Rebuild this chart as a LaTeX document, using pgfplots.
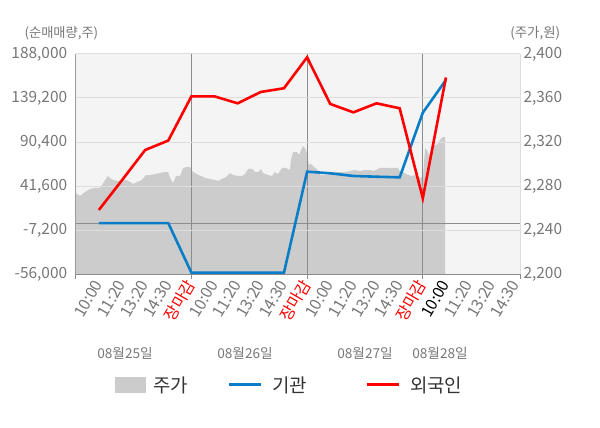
\documentclass[border=0pt]{standalone}
\usepackage{pgfplots}
\pgfplotsset{compat=1.18}
\usepackage{fontspec}
\setmainfont{Noto Sans CJK KR}
\definecolor{bgc}{HTML}{F4F4F4}
\definecolor{gridc}{HTML}{DDDDDD}
\definecolor{darkc}{HTML}{8C8C8C}
\definecolor{areac}{HTML}{CCCCCC}
\definecolor{bluec}{HTML}{0A7DC8}
\definecolor{redc}{HTML}{FF0000}
\definecolor{textc}{HTML}{777777}
\definecolor{legc}{HTML}{333333}
\begin{document}
\begin{tikzpicture}
\useasboundingbox (-75.7bp,-154bp) rectangle (524.3bp,274bp);
\begin{axis}[
  name=ax1, at={(0,0)}, anchor=south west,
  scale only axis, width=444.3bp, height=220bp,
  xmin=0, xmax=19.2, ymin=2200, ymax=2400,
  axis x line*=bottom, axis y line*=right,
  x axis line style={draw=none},
  y axis line style={draw=gridc, line width=1bp},
  axis background/.style={fill=bgc},
  xtick={1,...,19},
  xticklabels={10:00,11:20,13:20,14:30,\textcolor{redc}{장마감},10:00,11:20,13:20,14:30,\textcolor{redc}{장마감},10:00,11:20,13:20,14:30,\textcolor{redc}{장마감},\textcolor{black}{10:00},11:20,13:20,14:30},
  major tick length=0pt,
  x tick label style={xshift=1bp, yshift=-4.5bp, rotate=60, anchor=east, font=\fontsize{16}{18}\selectfont, text=textc},
  ytick={2200,2240,2280,2320,2360,2400},
  yticklabels={{2,200},{2,240},{2,280},{2,320},{2,360},{2,400}},
  y tick label style={font=\fontsize{15.5}{18}\selectfont, text=textc},
  scaled y ticks=false,
]
\addplot[fill=areac, draw=none] table {
0.00 2273.6
0.19 2270.9
0.40 2274.5
0.62 2277.3
0.83 2278.2
1.05 2278.2
1.14 2280.9
1.27 2285.5
1.40 2289.1
1.48 2287.3
1.61 2285.5
1.83 2284.5
2.00 2285.5
2.18 2285.5
2.35 2283.6
2.48 2281.8
2.65 2283.6
2.86 2285.5
3.04 2290.0
3.21 2290.0
3.43 2290.9
3.64 2291.8
3.86 2292.7
3.99 2292.7
4.08 2287.3
4.21 2282.7
4.33 2289.1
4.51 2289.1
4.64 2296.4
4.81 2297.3
4.94 2297.3
5.07 2292.7
5.16 2291.8
5.29 2290.0
5.42 2289.1
5.59 2287.3
5.80 2286.4
6.02 2285.5
6.15 2284.5
6.32 2286.4
6.50 2288.2
6.67 2291.8
6.80 2290.0
7.01 2289.1
7.19 2289.1
7.32 2290.9
7.45 2295.5
7.62 2295.5
7.75 2292.7
7.88 2292.7
8.01 2295.5
8.09 2291.8
8.31 2290.0
8.48 2289.1
8.61 2292.7
8.74 2290.9
8.92 2296.4
9.09 2296.4
9.26 2294.5
9.30 2303.6
9.39 2310.9
9.56 2310.9
9.65 2308.2
9.74 2312.7
9.82 2316.4
9.91 2314.5
10.00 2309.1
10.08 2299.1
10.17 2300.0
10.30 2297.3
10.47 2294.5
10.56 2290.0
10.78 2290.0
11.00 2290.9
11.21 2292.7
11.42 2292.7
11.64 2292.7
11.85 2293.6
12.07 2294.5
12.29 2293.6
12.50 2294.5
12.72 2294.5
12.85 2293.6
12.98 2294.5
13.15 2296.4
13.37 2296.4
13.58 2296.4
13.80 2296.4
13.93 2296.4
14.02 2292.7
14.14 2292.7
14.27 2290.9
14.36 2290.0
14.53 2289.1
14.66 2290.0
14.79 2288.2
14.92 2287.3
15.01 2290.0
15.10 2314.5
15.18 2312.7
15.27 2308.2
15.40 2312.7
15.48 2317.3
15.61 2317.3
15.74 2321.8
15.87 2324.5
15.96 2324.5
} \closedcycle;
\end{axis}
\begin{axis}[
  name=ax2, at={(0,0)}, anchor=south west,
  scale only axis, width=444.3bp, height=220bp,
  xmin=0, xmax=19.2, ymin=-56000, ymax=188000,
  axis x line*=bottom, axis y line*=left,
  x axis line style={draw=darkc, line width=1bp},
  y axis line style={draw=darkc!85, line width=1bp},
  xtick={5,10,15}, xticklabels={},
  extra x ticks={0,19.2}, extra x tick labels={}, extra x tick style={grid=none},
  xmajorgrids, x grid style={darkc, line width=1bp},
  tick align=outside,
  x tick style={draw=darkc, line width=1bp},
  major tick length=5bp,
  ytick={-56000,-7200,41600,90400,139200,188000},
  yticklabels={{-56,000},{-7,200},{41,600},{90,400},{139,200},{188,000}},
  y tick style={draw=none},
  ymajorgrids, y grid style={gridc, line width=1bp},
  y tick label style={font=\fontsize{15.5}{18}\selectfont, text=textc},
  scaled y ticks=false,
  legend image code/.code={\draw[#1, line width=3bp] (0bp,0bp) -- (32bp,0bp);},
  legend style={at={(0.0885,-0.5045)}, anchor=west, draw=none, fill=none,
    inner sep=0pt, outer sep=0pt, row sep=0pt,
    nodes={inner sep=0pt, outer sep=0pt},
    font=\fontsize{19}{22}\selectfont, text=legc,
    /tikz/column 1/.style={column sep=8bp},
    /tikz/column 2/.style={column sep=39bp},
    /tikz/column 3/.style={column sep=10bp},
    /tikz/column 4/.style={column sep=58bp},
    /tikz/column 5/.style={column sep=10bp}},
  legend columns=3,
]
\draw[darkc, line width=1bp] (axis cs:0,0) -- (axis cs:19.2,0);
\addlegendimage{legend image code/.code={\fill[areac] (0bp,-7.5bp) rectangle (30bp,7.5bp);}}
\addlegendentry{주가}
\addplot[bluec, line width=2.6bp] coordinates {
(1,500) (2,500) (3,500) (4,500) (5,-54500) (6,-54500) (7,-54500) (8,-54500) (9,-54500)
(10,57500) (11,55700) (12,52700) (13,51900) (14,51200) (15,122900) (16,159200)};
\addlegendentry{기관}
\addplot[redc, line width=2.6bp] coordinates {
(1,15000) (2,48000) (3,81500) (4,92000) (5,141000) (6,141000) (7,133300) (8,145900) (9,150000)
(10,184300) (11,132600) (12,123300) (13,133300) (14,127800) (15,28000) (16,162000)};
\addlegendentry{외국인}
\end{axis}
\node[font=\fontsize{13.3}{16}\selectfont, text=textc] at ([xshift=-14.3bp, yshift=21bp]ax2.north west) {(순매매량,주)};
\node[font=\fontsize{13.5}{16}\selectfont, text=textc] at ([xshift=15.3bp, yshift=21bp]ax2.north east) {(주가,원)};
\node[font=\fontsize{13.7}{16}\selectfont, text=textc] at ([xshift=49.3bp, yshift=-79bp]ax2.south west) {08월25일};
\node[font=\fontsize{13.7}{16}\selectfont, text=textc] at ([xshift=169.3bp, yshift=-79bp]ax2.south west) {08월26일};
\node[font=\fontsize{13.7}{16}\selectfont, text=textc] at ([xshift=289.3bp, yshift=-79bp]ax2.south west) {08월27일};
\node[font=\fontsize{13.7}{16}\selectfont, text=textc] at ([xshift=364.3bp, yshift=-79bp]ax2.south west) {08월28일};
\end{tikzpicture}
\end{document}
